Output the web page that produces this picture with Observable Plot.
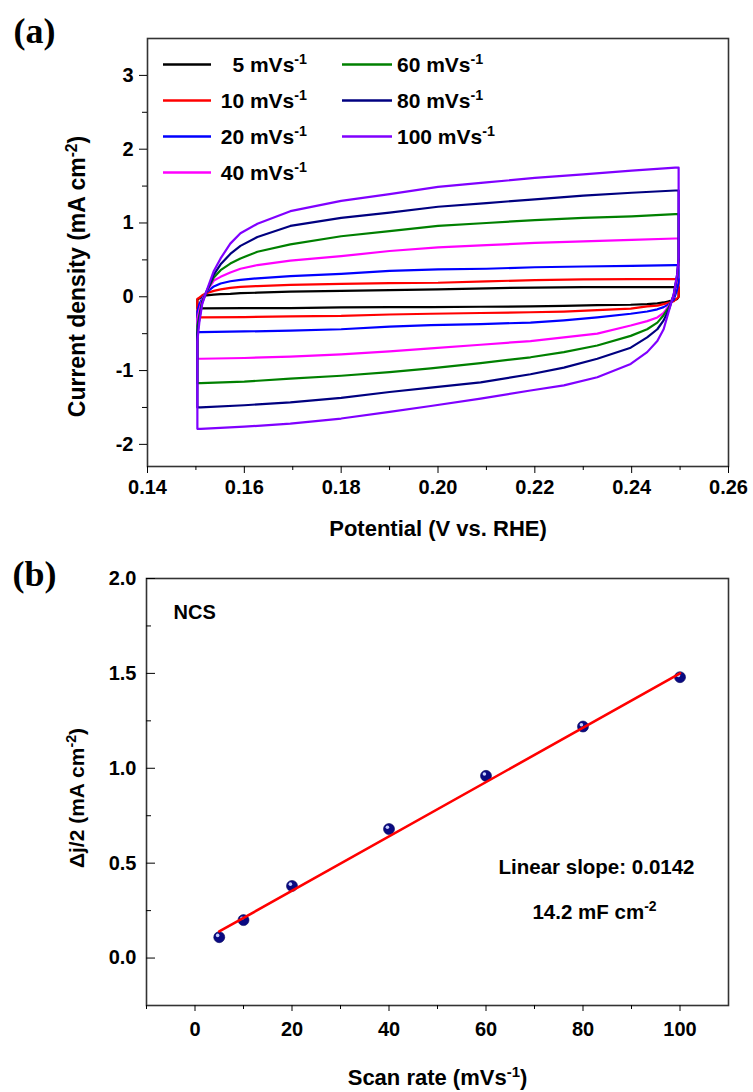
<!DOCTYPE html>
<html>
<head>
<meta charset="utf-8">
<script src="https://cdn.jsdelivr.net/npm/d3@7"></script>
<script src="https://cdn.jsdelivr.net/npm/@observablehq/plot@0.6"></script>
<style>
  html, body { margin: 0; padding: 0; background: #fff; }
  body { width: 753px; height: 1092px; overflow: hidden; }
  #a, #b { display: block; line-height: 0; }
  svg { display: block; }
</style>
</head>
<body>
<div id="a"></div>
<div id="b"></div>
<script>
// ---------- Panel (a): cyclic voltammograms ----------
const scanRates = [5, 10, 20, 40, 60, 80, 100];
const rateColors = ["#000000", "#ff0000", "#0000ff", "#ff00ff", "#008000", "#000080", "#8000ff"];

// anodic (forward) sweep potentials, V vs RHE
const forwardPotential = [0.1503, 0.1507, 0.1513, 0.1522, 0.1537, 0.1551, 0.1571, 0.1592, 0.1627, 0.1695, 0.18, 0.19, 0.20, 0.21, 0.22, 0.23, 0.24, 0.249];
// cathodic (reverse) sweep potentials
const reversePotential = [0.2497, 0.2497, 0.2494, 0.2487, 0.2477, 0.2466, 0.2453, 0.2432, 0.2398, 0.2329, 0.2260, 0.2191, 0.2088, 0.1985, 0.19, 0.18, 0.1695, 0.16, 0.151, 0.1503];

// current density (mA cm^-2), forward sweep
const fwd5   = [-0.04, -0.02, 0.0, 0.02, 0.03, 0.035, 0.04, 0.05, 0.055, 0.07, 0.08, 0.09, 0.10, 0.115, 0.125, 0.13, 0.13, 0.13];
const fwd10  = [-0.03, -0.01, 0.02, 0.05, 0.08, 0.10, 0.12, 0.135, 0.145, 0.16, 0.175, 0.185, 0.19, 0.21, 0.225, 0.235, 0.24, 0.24];
const fwd20  = [-0.2, -0.1, -0.02, 0.06, 0.14, 0.18, 0.21, 0.23, 0.25, 0.28, 0.31, 0.35, 0.37, 0.38, 0.40, 0.41, 0.42, 0.43];
const fwd40  = [-0.3, -0.18, -0.04, 0.07, 0.22, 0.27, 0.33, 0.38, 0.43, 0.49, 0.55, 0.62, 0.67, 0.70, 0.73, 0.75, 0.77, 0.79];
const fwd60  = [-0.4, -0.25, -0.06, 0.07, 0.26, 0.36, 0.45, 0.52, 0.61, 0.71, 0.82, 0.89, 0.96, 1.00, 1.04, 1.07, 1.09, 1.12];
const fwd80  = [-0.5, -0.3, -0.08, 0.07, 0.30, 0.44, 0.58, 0.69, 0.81, 0.96, 1.07, 1.14, 1.22, 1.27, 1.32, 1.37, 1.41, 1.44];
const fwd100 = [-0.6, -0.35, -0.1, 0.08, 0.35, 0.52, 0.72, 0.86, 0.99, 1.16, 1.30, 1.39, 1.49, 1.55, 1.61, 1.66, 1.71, 1.75];

// current density (mA cm^-2), reverse sweep
const rev5   = [0.13, 0.0, -0.03, -0.05, -0.06, -0.077, -0.09, -0.1, -0.108, -0.113, -0.122, -0.131, -0.135, -0.14, -0.14, -0.144, -0.153, -0.155, -0.157, -0.157];
const rev10  = [0.24, 0.0, -0.02, -0.06, -0.08, -0.1, -0.12, -0.13, -0.16, -0.18, -0.2, -0.21, -0.22, -0.23, -0.24, -0.26, -0.265, -0.275, -0.28, -0.28];
const rev20  = [0.43, 0.2, 0.1, -0.04, -0.1, -0.14, -0.17, -0.2, -0.23, -0.28, -0.32, -0.35, -0.37, -0.385, -0.405, -0.44, -0.46, -0.47, -0.48, -0.48];
const rev40  = [0.79, 0.45, 0.25, 0.0, -0.12, -0.22, -0.28, -0.33, -0.39, -0.5, -0.55, -0.6, -0.65, -0.7, -0.74, -0.78, -0.81, -0.83, -0.84, -0.84];
const rev60  = [1.12, 0.5, 0.28, 0.02, -0.14, -0.25, -0.35, -0.44, -0.53, -0.66, -0.75, -0.82, -0.9, -0.97, -1.02, -1.07, -1.11, -1.15, -1.17, -1.17];
const rev80  = [1.44, 0.52, 0.30, 0.03, -0.17, -0.32, -0.44, -0.55, -0.69, -0.84, -0.96, -1.05, -1.16, -1.23, -1.29, -1.37, -1.43, -1.47, -1.5, -1.5];
const rev100 = [1.75, 0.53, 0.31, 0.04, -0.19, -0.44, -0.6, -0.75, -0.91, -1.09, -1.2, -1.27, -1.38, -1.48, -1.56, -1.65, -1.72, -1.76, -1.79, -1.79];

const forwardCurrents = [fwd5, fwd10, fwd20, fwd40, fwd60, fwd80, fwd100];
const reverseCurrents = [rev5, rev10, rev20, rev40, rev60, rev80, rev100];

const potentialTicks = [0.14, 0.16, 0.18, 0.20, 0.22, 0.24, 0.26];
const potentialMinor = [0.15, 0.17, 0.19, 0.21, 0.23, 0.25];
const currentTicks = [-2, -1, 0, 1, 2, 3];
const currentMinor = [-1.5, -0.5, 0.5, 1.5, 2.5];

// ---------- Panel (b): half capacitive current vs scan rate ----------
const rateValues = [5, 10, 20, 40, 60, 80, 100];
const halfDeltaJ = [0.11, 0.20, 0.38, 0.68, 0.96, 1.22, 1.48];
const fitRate = [5, 100];
const fitHalfDeltaJ = [0.14, 1.50];
const rateTicks = [0, 20, 40, 60, 80, 100];
const rateMinor = [-10, 10, 30, 50, 70, 90];
const deltaTicks = [0, 0.5, 1.0, 1.5, 2.0];
const deltaMinor = [0.25, 0.75, 1.25, 1.75];

// ---------- build ----------
const font = "'Liberation Sans', Arial, Helvetica, sans-serif";
const serif = "'Liberation Serif', 'Times New Roman', serif";
const centered = {textAnchor: "middle", lineAnchor: "middle", fontWeight: "bold"};

const loops = scanRates.map((rate, i) => {
  const pts = forwardPotential.map((x, j) => ({x, y: forwardCurrents[i][j]}))
    .concat(reversePotential.map((x, j) => ({x, y: reverseCurrents[i][j]})));
  pts.push(pts[0]);
  return {rate, color: rateColors[i], pts};
});

const chartA = Plot.plot({
  width: 753, height: 545,
  marginTop: 38, marginBottom: 79, marginLeft: 147, marginRight: 25,
  style: {fontFamily: font, fontSize: "20px", fontWeight: "bold", background: "#fff", color: "#000"},
  x: {domain: [0.14, 0.26], axis: null},
  y: {domain: [-2.3, 3.5], axis: null},
  marks: [
    ...loops.map(s => Plot.line(s.pts, {x: "x", y: "y", stroke: s.color, strokeWidth: 2.2, curve: "linear"})),
    Plot.frame({stroke: "#333", strokeWidth: 1.6}),
    Plot.axisX({ticks: potentialTicks, tickSize: 7, tickPadding: 6, tickFormat: d3.format(".2f"), label: null, fontSize: 20}),
    Plot.axisX({ticks: potentialMinor, tickSize: 4, text: null, label: null}),
    Plot.axisY({ticks: currentTicks, tickSize: 8, tickPadding: 6, tickFormat: d => String(d), label: null, fontSize: 20}),
    Plot.axisY({ticks: currentMinor, tickSize: 5, text: null, label: null}),
    Plot.text(["Potential (V vs. RHE)"], {text: d => d, frameAnchor: "bottom", dy: 62, fontSize: 22, ...centered}),
    Plot.text(["Current density (mA cm^{-2})"], {text: d => d, frameAnchor: "left", rotate: -90, dx: -70, dy: 24, fontSize: 23, ...centered}),
    Plot.text(["(a)"], {text: d => d, frameAnchor: "top-left", dx: -113, dy: -7, fontSize: 36, ...centered, fontFamily: serif})
  ]
});

const points = rateValues.map((r, i) => ({rate: r, half: halfDeltaJ[i]}));
const fit = fitRate.map((r, i) => ({rate: r, half: fitHalfDeltaJ[i]}));

const chartB = Plot.plot({
  width: 753, height: 547,
  marginTop: 33, marginBottom: 87, marginLeft: 146, marginRight: 25,
  style: {fontFamily: font, fontSize: "20px", fontWeight: "bold", background: "#fff", color: "#000"},
  x: {domain: [-10, 110], axis: null},
  y: {domain: [-0.25, 2.0], axis: null},
  marks: [
    Plot.dot(points, {x: "rate", y: "half", r: 5.5, fill: "#0a0a82", stroke: "#06065a", strokeWidth: 0.6}),
    Plot.dot(points, {x: "rate", y: "half", r: 1.8, fill: "#c8d0ff", dx: -1.6, dy: -1.8}),
    Plot.line(fit, {x: "rate", y: "half", stroke: "#ff0000", strokeWidth: 2.6}),
    Plot.frame({stroke: "#333", strokeWidth: 1.6}),
    Plot.axisX({ticks: rateTicks, tickSize: 6, tickPadding: 10, tickFormat: d => String(d), label: null, fontSize: 20}),
    Plot.axisX({ticks: rateMinor, tickSize: 4, text: null, label: null}),
    Plot.axisY({ticks: deltaTicks, tickSize: 0, tickPadding: 10, tickFormat: d3.format(".1f"), label: null, fontSize: 20}),
    Plot.axisY({ticks: deltaTicks, tickSize: 9, dx: 9, text: null, label: null}),
    Plot.axisY({ticks: deltaMinor, tickSize: 5, dx: 5, text: null, label: null}),
    Plot.text(["Scan rate (mVs^{-1})"], {text: d => d, frameAnchor: "bottom", dy: 72, fontSize: 22, ...centered}),
    Plot.text(["Δj/2 (mA cm^{-2})"], {text: d => d, frameAnchor: "left", rotate: -90, dx: -69, dy: 6, fontSize: 21, ...centered}),
    Plot.text(["NCS"], {text: d => d, frameAnchor: "top-left", dx: 27, dy: 34, fontSize: 20, ...centered, textAnchor: "start"}),
    Plot.text(["Linear slope: 0.0142"], {text: d => d, frameAnchor: "top-left", dx: 450, dy: 289, fontSize: 20.5, ...centered}),
    Plot.text(["14.2 mF cm^{-2}"], {text: d => d, frameAnchor: "top-left", dx: 448, dy: 334, fontSize: 20.5, ...centered}),
    Plot.text(["(b)"], {text: d => d, frameAnchor: "top-left", dx: -112, dy: -4, fontSize: 36, ...centered, fontFamily: serif})
  ]
});

document.getElementById("a").appendChild(chartA);
document.getElementById("b").appendChild(chartB);

// legend inside panel (a)
const legCol = [0, 0, 0, 0, 1, 1, 1];
const legRow = [0, 1, 2, 3, 0, 1, 2];
const leg = d3.select(chartA).append("g")
  .attr("font-family", font).attr("font-size", 21).attr("font-weight", "bold");
scanRates.forEach((rate, i) => {
  const c = legCol[i], r = legRow[i];
  const cy = 64.5 + 36 * r;
  const x1 = c === 0 ? 163 : 342, x2 = c === 0 ? 211 : 392;
  leg.append("line").attr("x1", x1).attr("x2", x2).attr("y1", cy).attr("y2", cy)
    .attr("stroke", rateColors[i]).attr("stroke-width", 2.6);
  leg.append("text")
    .attr("x", c === 0 ? 307 : 397).attr("y", cy + 7.5)
    .attr("text-anchor", c === 0 ? "end" : "start")
    .attr("fill", "#000")
    .text(`${rate} mVs^{-1}`);
});

// superscripts: turn "^{..}" into raised tspans
function applySup(root) {
  const ns = "http://www.w3.org/2000/svg";
  root.querySelectorAll("text, tspan").forEach(el => {
    if (el.children.length) return;
    const s = el.textContent;
    if (!s.includes("^{")) return;
    el.textContent = "";
    s.split(/(\^\{[^}]*\})/).forEach(p => {
      if (!p) return;
      const t = document.createElementNS(ns, "tspan");
      if (p.startsWith("^{")) {
        t.textContent = p.slice(2, -1);
        t.setAttribute("baseline-shift", "super");
        t.setAttribute("font-size", "68%");
      } else {
        t.textContent = p;
      }
      el.appendChild(t);
    });
  });
}
applySup(chartA);
applySup(chartB);
</script>
</body>
</html>
